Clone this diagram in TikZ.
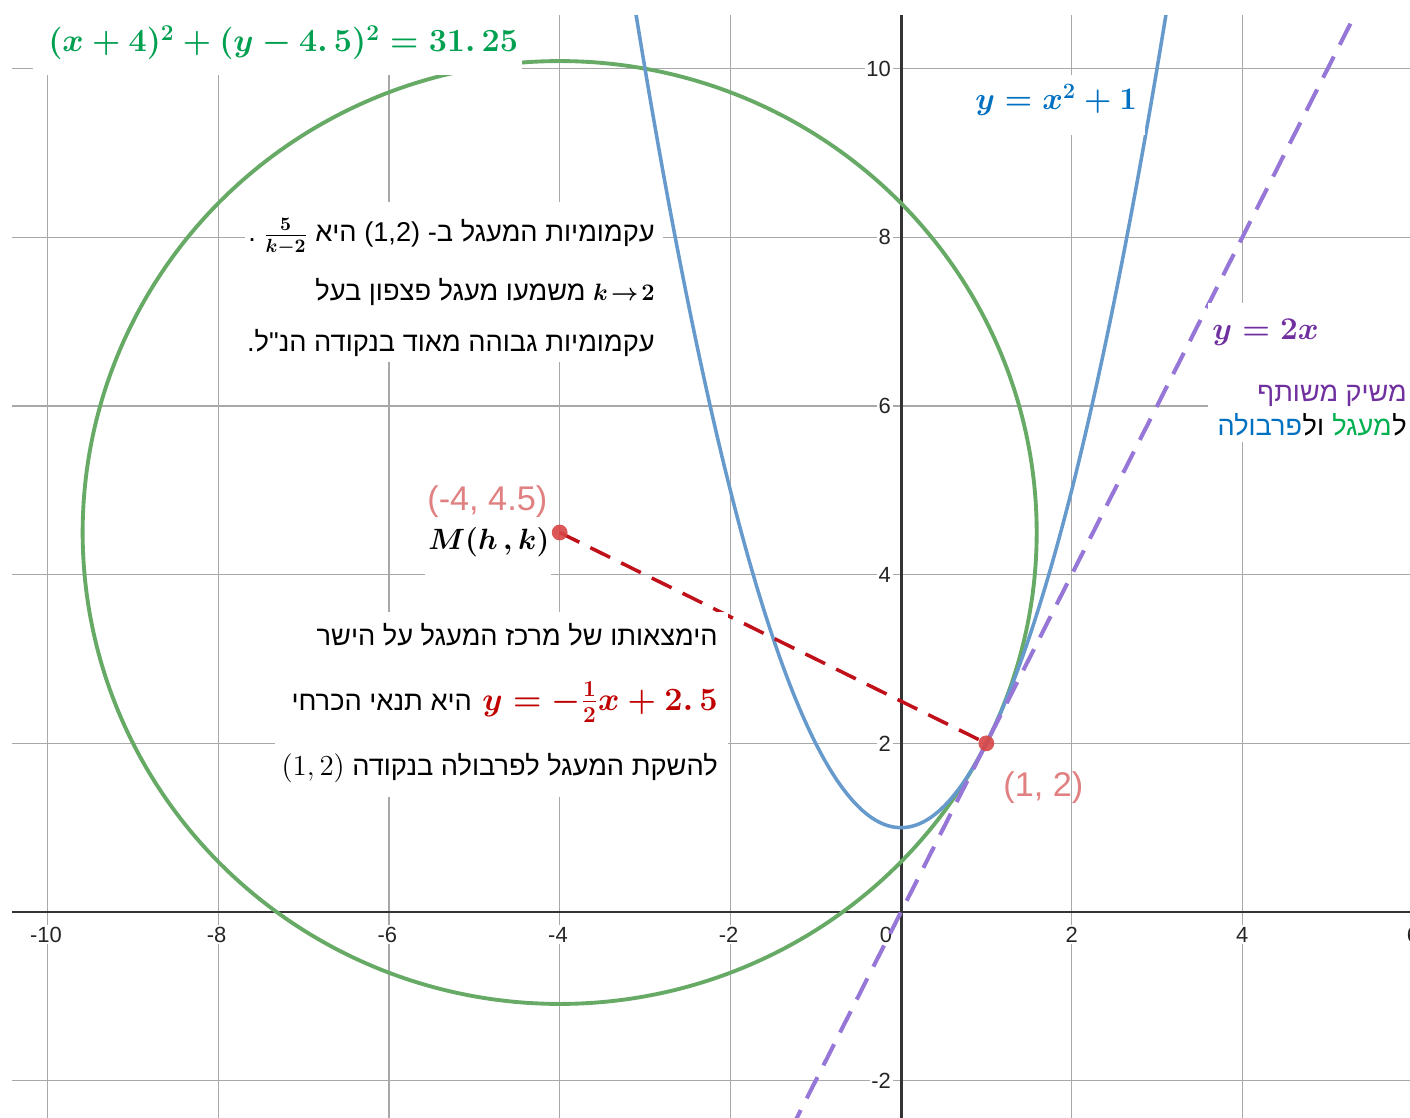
\RequirePackage{fix-cm}
\documentclass[tikz,border=0pt]{standalone}
\usepackage{amsmath}
\usepackage[no-math]{fontspec}
\setmainfont{Liberation Sans}
\newfontfamily\hebfont[Script=Hebrew]{Liberation Sans}
\TeXXeTstate=1
\definecolor{eqgreen}{HTML}{00A050}
\definecolor{eqblue}{HTML}{0070C0}
\definecolor{eqpurple}{HTML}{7030A0}
\definecolor{eqred}{HTML}{C00000}
\definecolor{hgreen}{HTML}{00B050}
\definecolor{circcol}{HTML}{66AA66}
\definecolor{parcol}{HTML}{6699CC}
\definecolor{tancol}{HTML}{9676D6}
\definecolor{radcol}{HTML}{C0101A}
\definecolor{dotcol}{HTML}{D94545}
\definecolor{ptlab}{HTML}{E08080}
\definecolor{gridcol}{HTML}{A8A8A8}
\definecolor{axiscol}{HTML}{333333}
\newcommand\fsz[1]{\fontsize{#1}{#1}\selectfont}
\begin{document}
\begin{tikzpicture}[x=0.02cm, y=-0.02cm,
  gridline/.style={draw=gridcol, line width=0.8pt},
  axisline/.style={draw=axiscol, line width=1.7pt},
  ticklab/.style={fill=white, inner sep=1pt, text=black!85, font=\fsz{12.5}},
  circstyle/.style={draw=circcol, line width=2.2pt},
  parstyle/.style={draw=parcol, line width=2.0pt},
  tanstyle/.style={draw=tancol, line width=2.3pt, dash pattern=on 13.5pt off 7.5pt},
  radstyle/.style={draw=radcol, line width=2.0pt, dash pattern=on 12.5pt off 7pt},
  dot/.style={circle, fill=dotcol, fill opacity=0.9, inner sep=0pt, minimum size=9pt},
  ptlabel/.style={anchor=base west, inner sep=0pt, text=ptlab, font=\fsz{19.5}},
  eqn/.style={anchor=base west, inner sep=0pt},
  heb/.style={anchor=base east, inner sep=0pt, font=\fsz{15.5}\hebfont},
  hebr/.style={anchor=base east, inner sep=0pt, font=\fsz{15.4}\hebfont},
  whitebox/.style={fill=white}
]
\useasboundingbox (0,0) rectangle (1410,1118);
\fill[white] (0,0) rectangle (1410,1118);

\begin{scope}[shift={(901,912)}, x=1.707cm, y=1.687cm]
  % grid
  \foreach \X in {-10,-8,-6,-4,-2,2,4} \draw[gridline] (\X,-2.442) -- (\X,10.634);
  \foreach \Y in {-2,2,4,6,8,10} \draw[gridline] (-10.416,\Y) -- (5.964,\Y);
  % axes
  \draw[axisline] (-10.416,0) -- (5.964,0);
  \draw[axisline] (0,-2.442) -- (0,10.634);
  % tick labels
  \foreach \X [count=\i] in {-10,-8,-6,-4,-2} \node[ticklab] (xn\i) at (\X-0.02,-0.27) {\X};
  \foreach \X [count=\i] in {2,4,6} \node[ticklab] (xp\i) at (\X,-0.27) {\X};
  \node[ticklab] (x0) at (-0.176,-0.27) {0};
  \foreach \Y [count=\i] in {-2,2,4,6,8,10} \node[ticklab, anchor=east] (yl\i) at (-0.094,\Y) {\Y};
  % curves
  \begin{scope}
    \clip (-10.416,-2.442) rectangle (5.964,10.634);
    \draw[circstyle] plot[smooth cycle, domain=0:358, samples=180, variable=\t] ({-4+5.5902*cos(\t)},{4.5+5.5902*sin(\t)});
    \draw[parstyle] plot[smooth, domain=-3.2:3.2, samples=129, variable=\t] (\t,{\t*\t+1});
    \draw[tanstyle] (-1.3,-2.6) -- (5.5,11);
  \end{scope}
  \coordinate (M) at (-4,4.5);
  \coordinate (T) at (1,2);
  \draw[radstyle] (M) -- (T);
  \node[dot] (Mdot) at (M) {};
  \node[dot] (Tdot) at (T) {};
\end{scope}

% point labels
\node[ptlabel] (Mlab) at (427,510) {(-4, 4.5)};
\node[ptlabel] (Tlab) at (1003,796) {(1, 2)};

% circle equation
\fill[whitebox] (33,0) rectangle (522,75);
\node[eqn, text=eqgreen, font={\fsz{18.4}\boldmath}] (eqcirc) at (48,52) {$(x+4)^2+(y-4.\,5)^2=31.\,25$};

% parabola equation
\fill[whitebox] (960,75) rectangle (1145,135);
\node[eqn, text=eqblue, font={\fsz{17.8}\boldmath}] (eqpar) at (975,110) {$y=x^2+1$};

% tangent equation and note
\fill[whitebox] (1208,303) rectangle (1410,442);
\node[eqn, text=eqpurple, font={\fsz{18}\boldmath}] (eqtan) at (1212,340) {$y=2x$};
\node[hebr, text=eqpurple] (r1) at (1407,402) {\beginR משיק משותף\endR};
\node[hebr, text=black] (r2a) at (1407,436) {ל};
\node[hebr, text=hgreen] (r2b) at (r2a.base west) {מעגל};
\node[hebr, text=black, xshift=-4.3pt] (r2c) at (r2b.base west) {ול};
\node[hebr, text=eqblue] (r2d) at (r2c.base west) {פרבולה};

% M(h,k)
\fill[whitebox] (425,520) rectangle (551,580);
\node[eqn, font={\fsz{16.7}\boldmath}] (Mhk) at (428,549) {$M(h\,,k)$};

% top block
\fill[whitebox] (245,202) rectangle (663,362);
\node[heb] (a1) at (655,242) {\beginR עקמומיות המעגל ב\kern0pt- \mbox{\rmfamily (1,2)} היא \mbox{\boldmath$\frac{5}{k-2}$} .\endR};
\node[heb] (a2) at (655,301) {\beginR \mbox{\fsz{13.5}\thickmuskip=2mu\boldmath$k\to 2$} משמעו מעגל פצפון בעל\endR};
\node[heb] (a3) at (655,352) {\beginR עקמומיות גבוהה מאוד בנקודה הנ"ל\kern0pt.\endR};

% lower block
\fill[whitebox] (275,612) rectangle (728,797);
\node[heb] (b1) at (718,645) {\beginR הימצאותו של מרכז המעגל על הישר\endR};
\node[anchor=base east, inner sep=0pt, text=eqred, font={\fsz{18.5}\boldmath}] (b2m) at (718,710) {$y=-\tfrac{1}{2}x+2.\,5$};
\node[heb, xshift=-5.5pt] (b2h) at (b2m.base west) {\beginR היא תנאי הכרחי\endR};
\node[heb] (b3) at (718,775) {\beginR להשקת המעגל לפרבולה בנקודה \mbox{\fsz{16.5}$(1,2)$}\endR};
\end{tikzpicture}
\end{document}
